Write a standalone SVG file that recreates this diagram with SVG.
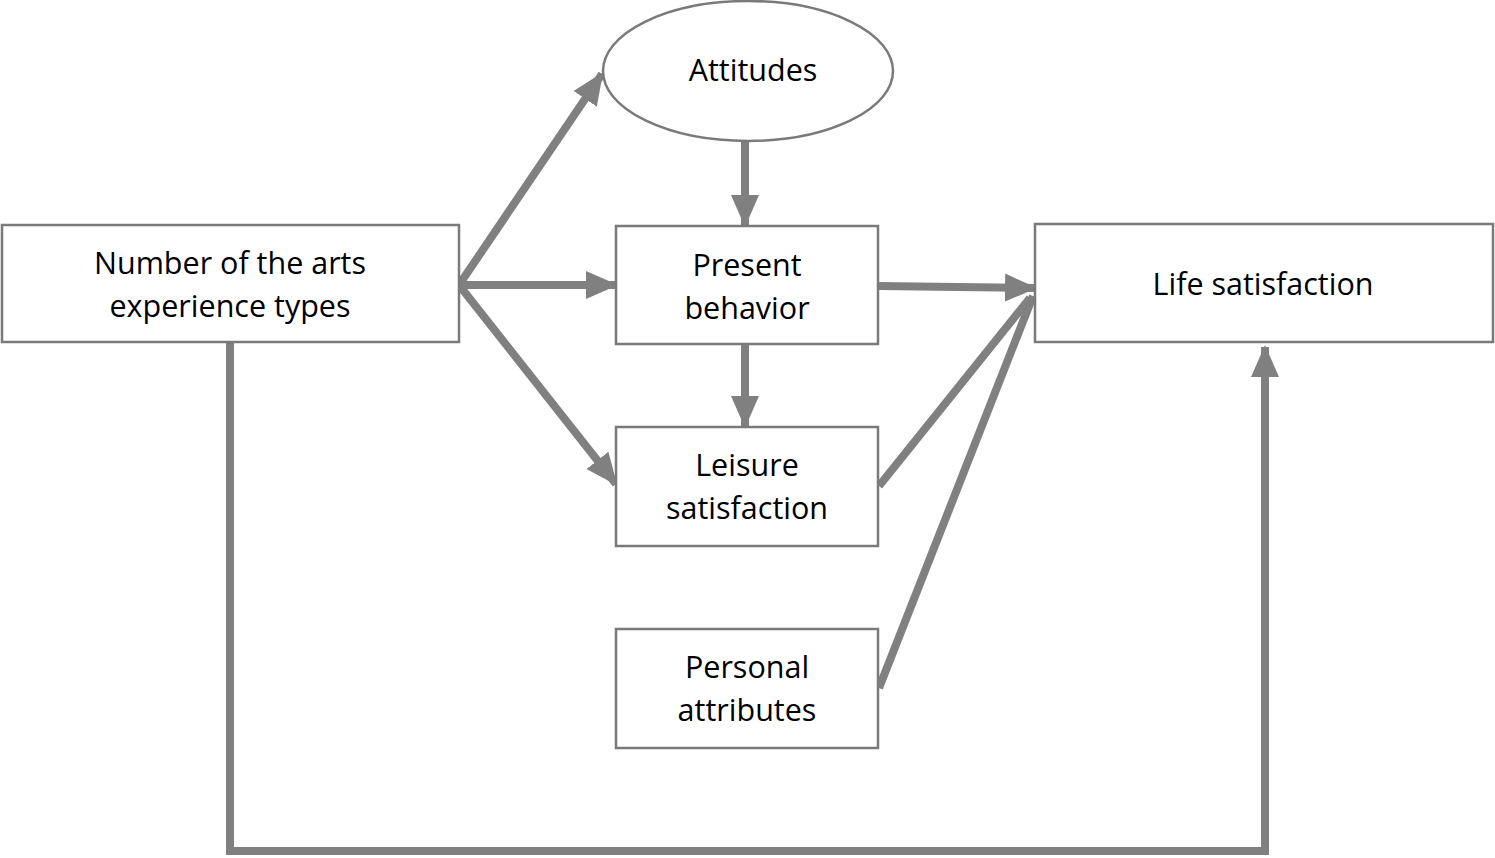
<svg xmlns="http://www.w3.org/2000/svg" width="1495" height="858" viewBox="0 0 1495 858">
<defs>
<style>
.box{fill:#fff;stroke:#7a7a7a;stroke-width:2.5}
.t{font-family:"Open Sans","Noto Sans",sans-serif;font-size:30.5px;fill:#000;text-anchor:middle}
.c{fill:none;stroke:#808080;stroke-width:8}
</style>
<marker id="ah" markerUnits="userSpaceOnUse" markerWidth="32" markerHeight="32" viewBox="0 0 32 32" refX="30" refY="16" orient="auto">
<path d="M0,2 L32,16 L0,30 Z" fill="#808080"/>
</marker>
</defs>
<rect width="1495" height="858" fill="#fff"/>
<g id="connectors">
<line class="c" x1="459" y1="285" x2="602" y2="74" marker-end="url(#ah)"/>
<line class="c" x1="459" y1="285" x2="616" y2="285" marker-end="url(#ah)"/>
<line class="c" x1="459" y1="285" x2="616" y2="484" marker-end="url(#ah)"/>
<line class="c" x1="745" y1="142" x2="745" y2="225" marker-end="url(#ah)"/>
<line class="c" x1="745" y1="344" x2="745" y2="426" marker-end="url(#ah)"/>
<line class="c" x1="878" y1="286" x2="1035" y2="288" marker-end="url(#ah)"/>
<line class="c" x1="879" y1="486" x2="1030" y2="298"/>
<path class="c" d="M879,688 Q960,480 1033,296"/>
<polyline class="c" points="230,342 230,851 1265,851 1265,347" marker-end="url(#ah)"/>
</g>
<g id="attitudes">
<ellipse class="box" cx="748" cy="71" rx="145" ry="70" stroke-width="1.5"/>
<text class="t" x="753" y="81">Attitudes</text>
</g>
<g id="arts">
<rect class="box" x="2" y="225" width="457" height="117"/>
<text class="t" x="230" y="274">Number of the arts</text>
<text class="t" x="230" y="317">experience types</text>
</g>
<g id="present">
<rect class="box" x="616" y="226" width="262" height="118"/>
<text class="t" x="747" y="276">Present</text>
<text class="t" x="747" y="319">behavior</text>
</g>
<g id="leisure">
<rect class="box" x="616" y="427" width="262" height="119"/>
<text class="t" x="747" y="476">Leisure</text>
<text class="t" x="747" y="519">satisfaction</text>
</g>
<g id="personal">
<rect class="box" x="616" y="629" width="262" height="119"/>
<text class="t" x="747" y="678">Personal</text>
<text class="t" x="747" y="721">attributes</text>
</g>
<g id="life">
<rect class="box" x="1035" y="224" width="458" height="118"/>
<text class="t" x="1263" y="295">Life satisfaction</text>
</g>
</svg>
